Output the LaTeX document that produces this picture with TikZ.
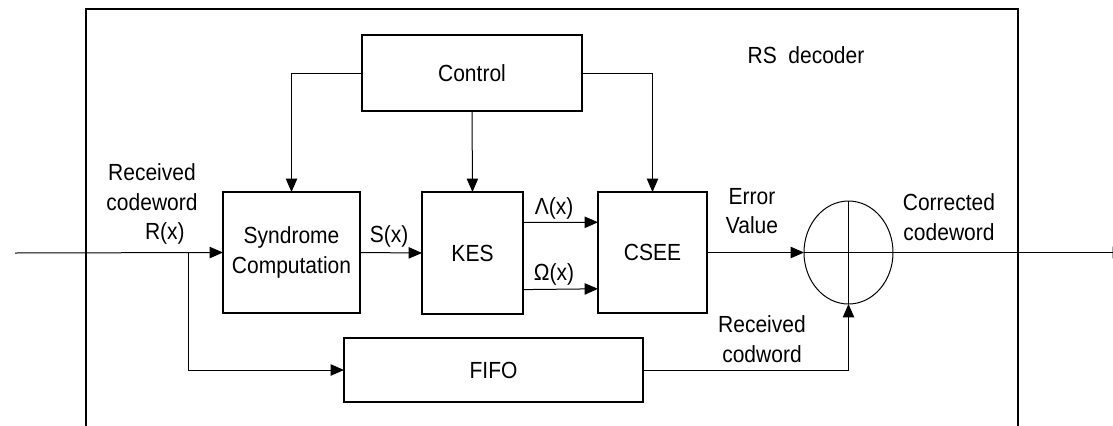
\documentclass[tikz,border=0pt]{standalone}
\usepackage{fontspec}
\setmainfont{Liberation Sans}[FakeStretch=0.9]
\usetikzlibrary{arrows.meta,shapes.geometric,calc}

\tikzset{
  block/.style={draw, line width=0.8pt, inner sep=0pt, outer sep=0pt, align=center},
  arr/.style={-{Triangle[length=10pt,width=8.5pt]}, line width=0.75pt},
  wire/.style={line width=0.75pt},
  lbl/.style={align=center, inner sep=0pt}
}

\begin{document}
\begin{tikzpicture}[x=0.75pt, y=-0.75pt, font=\fontsize{17.5}{22}\selectfont]
        \clip (0,0) rectangle (1113,425);

        % Ramka dekodera
        \draw[line width=1.3pt] (86,9) rectangle (1018,450);
        \node[lbl] (title) at (806,55) {RS\ \ decoder};

        % Bloki
        \node[block, minimum width=165pt, minimum height=57pt] (ctrl) at (472,73) {Control};
        \node[block, minimum width=102.75pt, minimum height=90.75pt] (synd) at (291.5,252.5) {Syndrome\\Computation};
        \node[block, minimum width=75.75pt, minimum height=91.5pt] (kes) at (472.5,253) {KES};
        \node[block, minimum width=81.75pt, minimum height=90.75pt] (csee) at (652.5,252.5) {CSEE};
        \node[block, minimum width=224.25pt, minimum height=48pt] (fifo) at (493.5,370) {FIFO};

        % Sumator
        \node[draw, ellipse, line width=0.75pt, minimum width=66.75pt, minimum height=77.25pt, inner sep=0pt, outer sep=0pt] (xor) at (848.5,252.5) {};
        \draw[wire] (xor.north) -- (xor.south);
        \draw[wire] (xor.west) -- (xor.east);

        % Wejscie i wyjscie
        \coordinate (in) at (15,253);
        \coordinate (br) at (188,253);
        \coordinate (out) at (1126,252.5);
        \draw[arr] (in) -- (synd.west);
        \draw[arr] (br) |- (fifo.west);
        \draw[arr] (xor.east) -- (out);

        % Sterowanie
        \draw[arr] (ctrl.west) -| (synd.north);
        \draw[arr] (ctrl.south) -- (kes.north);
        \draw[arr] (ctrl.east) -| (csee.north);

        % Dane
        \draw[arr] (synd.east) -- (kes.west);
        \draw[arr] ($(kes.north east)!0.25!(kes.south east)$) -- ($(csee.north west)!0.25!(csee.south west)$);
        \draw[arr] ($(kes.north east)!0.8!(kes.south east)$) -- ($(csee.north west)!0.8!(csee.south west)$);
        \draw[arr] (csee.east) -- (xor.west);
        \draw[arr] (fifo.east) -| (xor.south);

        % Oznaczenia
        \node[lbl] (rx) at (152,204) {Received\\codeword\\\hspace*{1.1em}R(x)};
        \node[lbl] (sx) at (389,236) {S(x)};
        \node[lbl] (lam) at (554,208) {Λ(x)};
        \node[lbl] (om) at (554,274) {Ω(x)};
        \node[lbl] (err) at (752,211) {Error\\Value};
        \node[lbl] (corr) at (949,217) {Corrected\\codeword};
        \node[lbl] (rcw) at (762,339) {Received\\codword};
    \end{tikzpicture}
\end{document}
